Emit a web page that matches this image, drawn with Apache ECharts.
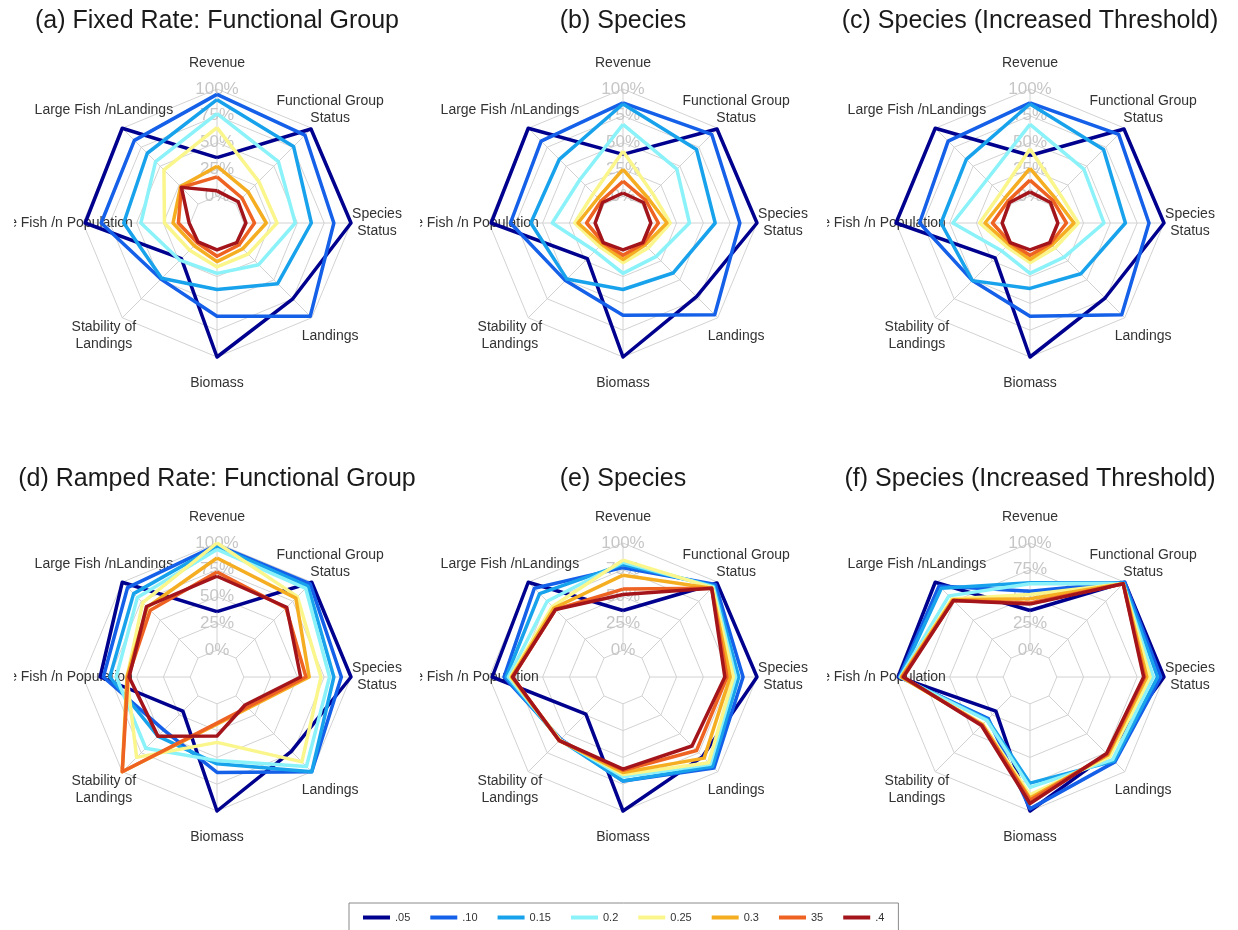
<!DOCTYPE html>
<html>
<head>
<meta charset="utf-8">
<script src="https://cdn.jsdelivr.net/npm/echarts@6/dist/echarts.min.js"></script>
<style>
  html, body { margin: 0; padding: 0; background: #fff; width: 1238px; height: 930px; overflow: hidden; }
  .cell { position: absolute; overflow: hidden; }
</style>
</head>
<body>
<div id="cell0" class="cell"></div>
<div id="cell1" class="cell"></div>
<div id="cell2" class="cell"></div>
<div id="cell3" class="cell"></div>
<div id="cell4" class="cell"></div>
<div id="cell5" class="cell"></div>
<div id="legendBox" class="cell"></div>
<script>
// Axes, listed clockwise from the top
const axisNames = [
  'Revenue',
  'Functional Group\nStatus',
  'Species\nStatus',
  'Landings',
  'Biomass',
  'Stability of\nLandings',
  'Large Fish /n Population',
  'Large Fish /nLandings'
];

// Ring labels on the Revenue axis
const ringTicks = [0, 25, 50, 75, 100];

// Exploitation rates (legend) and their colours
const rateLabels = ['.05', '.10', '0.15', '0.2', '0.25', '0.3', '35', '.4'];
const rateColors = ['#00008F', '#1560E8', '#18A2EC', '#8AF2F8', '#FAF68C', '#F5AE22', '#EE6222', '#A3151B'];

const panelTitles = [
  '(a) Fixed Rate: Functional Group',
  '(b) Species',
  '(c) Species (Increased Threshold)',
  '(d) Ramped Rate: Functional Group',
  '(e) Species',
  '(f) Species (Increased Threshold)'
];

// Percent scores, one row per rate (.05 ... .4), columns in axisNames order
const fixedFunctionalGroup = [
  [36, 99, 100, 75, 100, 22, 98, 100],
  [95, 91, 84, 98, 62, 49, 83, 84],
  [90, 76, 63, 55, 37, 48, 62, 67],
  [77, 56, 48, 30, 22, 24, 46, 56],
  [64, 30, 31, 16, 16, 11, 24, 45],
  [28, 16, 21, 9, 11, 5, 16, 23],
  [18, 8, 10, 4, 6, 1, 11, 22],
  [5, 3, 2, 1, 0, 0, 1, 22]
];
const fixedSpecies = [
  [39, 99, 100, 72, 100, 22, 98, 100],
  [87, 92, 84, 96, 61, 51, 80, 83],
  [86, 72, 61, 41, 37, 49, 61, 59],
  [67, 46, 37, 19, 22, 12, 41, 32],
  [42, 14, 19, 8, 12, 6, 20, 14],
  [25, 8, 16, 4, 9, 3, 17, 8],
  [14, 5, 8, 2, 5, 1, 9, 4],
  [3, 2, 1, 1, 0, 1, 1, 2]
];
const fixedSpeciesThreshold = [
  [38, 99, 100, 74, 100, 21, 100, 100],
  [87, 92, 86, 96, 62, 51, 78, 83],
  [86, 72, 64, 42, 36, 51, 58, 59],
  [67, 46, 44, 20, 22, 12, 47, 32],
  [44, 14, 20, 8, 12, 6, 22, 14],
  [26, 8, 16, 4, 9, 3, 17, 8],
  [15, 5, 9, 2, 5, 1, 10, 4],
  [4, 2, 1, 1, 0, 1, 1, 2]
];
const rampedFunctionalGroup = [
  [36, 100, 100, 73, 100, 20, 84, 100],
  [98, 98, 91, 100, 64, 45, 81, 93],
  [97, 95, 84, 100, 56, 53, 75, 85],
  [94, 92, 80, 93, 53, 69, 69, 80],
  [100, 81, 72, 87, 36, 81, 59, 73],
  [86, 79, 61, 16, 19, 100, 59, 67],
  [73, 66, 58, 15, 18, 100, 58, 63],
  [69, 67, 53, 12, 30, 53, 57, 68]
];
const rampedSpecies = [
  [37, 99, 100, 80, 100, 24, 97, 100],
  [77, 97, 87, 95, 72, 57, 86, 92],
  [80, 95, 83, 93, 72, 58, 84, 85],
  [82, 94, 80, 90, 68, 58, 82, 75],
  [84, 93, 78, 88, 66, 58, 80, 68],
  [70, 92, 75, 82, 64, 59, 79, 66],
  [57, 92, 72, 72, 62, 59, 78, 64],
  [52, 92, 70, 66, 61, 59, 78, 64]
];
const rampedSpeciesThreshold = [
  [37, 100, 100, 77, 100, 20, 98, 100],
  [55, 100, 97, 87, 98, 30, 97, 95],
  [63, 99, 94, 86, 74, 31, 96, 92],
  [62, 98, 90, 84, 78, 32, 96, 82],
  [52, 98, 87, 80, 85, 37, 95, 78],
  [48, 98, 84, 78, 88, 38, 95, 77],
  [44, 98, 82, 77, 90, 38, 94, 76],
  [43, 98, 81, 76, 93, 39, 93, 76]
];

const panelData = [
  fixedFunctionalGroup, fixedSpecies, fixedSpeciesThreshold,
  rampedFunctionalGroup, rampedSpecies, rampedSpeciesThreshold
];

// Layout
const FONT = '"Liberation Sans", Arial, Helvetica, sans-serif';
const colCenters = [217, 623, 1030];
const rowTops = [0, 454];
const cellW = 406, cellH = 454;
const cx = 203, cy = 223;      // plot centre inside a cell
const R = 134;                 // radius of the 100% ring
const ringStep = R / 5;        // centre sits one ring below 0%
const titleTops = [4, 8];

// ECharts places radar indicators counter-clockwise; reorder the clockwise lists
const toCCW = arr => [arr[0]].concat(arr.slice(1).reverse());

function panelOption(idx) {
  const row = Math.floor(idx / 3);
  const names = toCCW(axisNames);
  return {
    animation: false,
    title: {
      text: panelTitles[idx],
      left: 'center',
      top: titleTops[row],
      textStyle: { fontFamily: FONT, fontSize: 25, fontWeight: 'normal', color: '#1a1a1a' }
    },
    radar: {
      center: [cx, cy],
      radius: R,
      startAngle: 90,
      splitNumber: 5,
      shape: 'polygon',
      indicator: names.map(n => ({ name: n, min: -25, max: 100 })),
      nameGap: 26,
      axisName: {
        color: '#333',
        fontFamily: FONT,
        fontSize: 14,
        lineHeight: 17,
        align: 'center',
        verticalAlign: 'middle'
      },
      axisLine: { show: false },
      axisTick: { show: false },
      axisLabel: { show: false },
      splitArea: { show: false },
      splitLine: { lineStyle: { color: '#d2d2d2', width: 1 } }
    },
    // Spokes start at the 0% ring; percent labels run up the Revenue axis
    polar: { center: [cx, cy], radius: [ringStep, R] },
    angleAxis: {
      type: 'value', min: 0, max: 360, interval: 45, startAngle: 90,
      axisLine: { show: false }, axisTick: { show: false }, axisLabel: { show: false },
      splitLine: { show: true, lineStyle: { color: '#d2d2d2', width: 1 } }
    },
    radiusAxis: {
      type: 'value', min: ringTicks[0], max: ringTicks[ringTicks.length - 1],
      interval: ringTicks[1] - ringTicks[0],
      axisLine: { show: false }, axisTick: { show: false }, splitLine: { show: false },
      axisLabel: {
        formatter: '{value}%', color: '#c6c6c6', fontFamily: FONT, fontSize: 17,
        align: 'center', verticalAlign: 'middle', margin: 0
      }
    },
    series: [{
      type: 'radar',
      symbol: 'none',
      silent: true,
      z: 3,
      data: panelData[idx].map((vals, k) => ({
        name: rateLabels[k],
        value: toCCW(vals),
        lineStyle: { color: rateColors[k], width: 3.5 },
        itemStyle: { color: rateColors[k] }
      }))
    }]
  };
}

for (let i = 0; i < 6; i++) {
  const el = document.getElementById('cell' + i);
  const row = Math.floor(i / 3), col = i % 3;
  el.style.left = (colCenters[col] - cx) + 'px';
  el.style.top = rowTops[row] + 'px';
  el.style.width = cellW + 'px';
  el.style.height = cellH + 'px';
  echarts.init(el, null, { renderer: 'canvas' }).setOption(panelOption(i));
}

// Shared legend along the bottom
const lg = document.getElementById('legendBox');
lg.style.left = '0px'; lg.style.top = '880px';
lg.style.width = '1238px'; lg.style.height = '100px';
echarts.init(lg).setOption({
  animation: false,
  grid: { show: false, left: 0, top: 0, width: 1, height: 1 },
  xAxis: { type: 'value', show: false },
  yAxis: { type: 'value', show: false },
  legend: {
    left: 349,
    top: 23,
    icon: 'rect',
    itemWidth: 27,
    itemHeight: 4,
    itemGap: 20,
    padding: [9, 14, 30, 14],
    borderColor: '#8a8a8a',
    borderWidth: 1,
    selectedMode: false,
    textStyle: { fontFamily: FONT, fontSize: 11, color: '#333' },
    data: rateLabels
  },
  series: rateLabels.map((n, k) => ({
    type: 'line', name: n, data: [], color: rateColors[k], symbol: 'none'
  }))
});
</script>
</body>
</html>
